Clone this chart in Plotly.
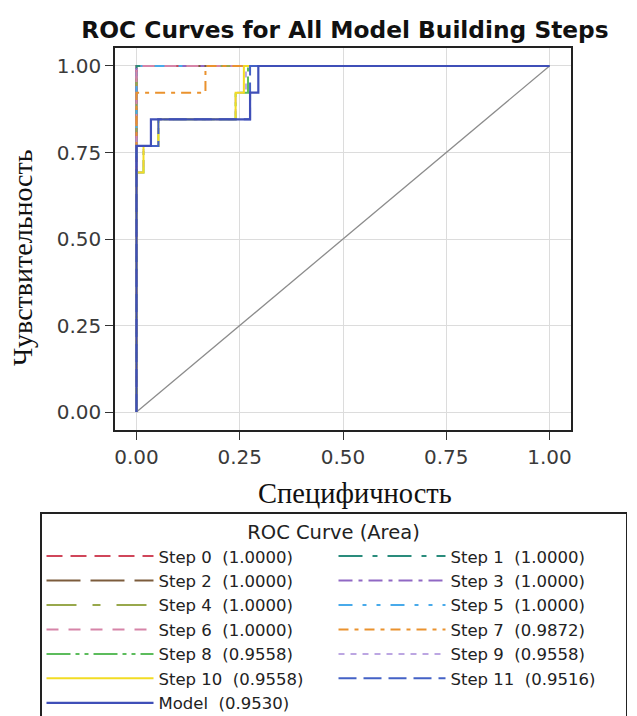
import plotly.graph_objects as go

# ---- data (1 - specificity on x, sensitivity on y) ----
step_names = ["Step 0", "Step 1", "Step 2", "Step 3", "Step 4", "Step 5", "Step 6",
              "Step 7", "Step 8", "Step 9", "Step 10", "Step 11", "Model"]
step_auc = ["1.0000", "1.0000", "1.0000", "1.0000", "1.0000", "1.0000", "1.0000",
            "0.9872", "0.9558", "0.9558", "0.9558", "0.9516", "0.9530"]

perfect_x = [0, 0, 1]
perfect_y = [0, 1, 1]
step7_x = [0, 0, 0.167, 0.167, 1]
step7_y = [0, 0.923, 0.923, 1, 1]
step8_x = [0, 0, 0.017, 0.017, 0.053, 0.053, 0.24, 0.24, 0.27, 0.27, 1]
step8_y = [0, 0.692, 0.692, 0.769, 0.769, 0.846, 0.846, 0.923, 0.923, 1, 1]
step9_x = [0, 0, 0.017, 0.017, 0.053, 0.053, 0.24, 0.24, 0.265, 0.265, 1]
step9_y = [0, 0.692, 0.692, 0.769, 0.769, 0.846, 0.846, 0.923, 0.923, 1, 1]
step10_x = [0, 0, 0.017, 0.017, 0.053, 0.053, 0.24, 0.24, 0.26, 0.26, 1]
step10_y = [0, 0.692, 0.692, 0.769, 0.769, 0.846, 0.846, 0.923, 0.923, 1, 1]
step11_x = [0, 0, 0.053, 0.053, 0.275, 0.275, 1]
step11_y = [0, 0.769, 0.769, 0.846, 0.846, 1, 1]
model_x = [0, 0, 0.035, 0.035, 0.275, 0.275, 0.295, 0.295, 1]
model_y = [0, 0.769, 0.769, 0.846, 0.846, 0.923, 0.923, 1, 1]

curves_x = [perfect_x] * 7 + [step7_x, step8_x, step9_x, step10_x, step11_x, model_x]
curves_y = [perfect_y] * 7 + [step7_y, step8_y, step9_y, step10_y, step11_y, model_y]

ticks = [0, 0.25, 0.5, 0.75, 1.0]
tick_text = ["0.00", "0.25", "0.50", "0.75", "1.00"]

# ---- styles ----
colors = ["#d0465a", "#2a8c7c", "#7c5c3c", "#9068c4", "#98a84c", "#48aaea", "#d684a8",
          "#ea922e", "#5cbc5c", "#bca6e2", "#f2dc24", "#4462c6", "#3f4fb8"]
dashes = ["16px,8px", "24px,10px,5px,10px", "34px,10px", "14px,6px,4px,6px",
          "30px,16px,8px,16px", "14px,10px,4px,10px,4px,10px", "12px,10px",
          "10px,6px,4px,6px", "24px,5px,4px,5px,4px,5px", "6px,6px", "solid",
          "18px,7px", "solid"]
FONT_SANS = "DejaVu Sans, Verdana, sans-serif"
FONT_SERIF = "Liberation Serif, Times New Roman, serif"

GS_W = 522.0    # width of the margin box (plot frame is 456 px of it)
FRAME_W = 456.0

fig = go.Figure()
fig.add_trace(go.Scatter(x=[0, 1], y=[0, 1], mode="lines",
                         line=dict(color="#8c8c8c", width=1.3), showlegend=False,
                         hoverinfo="skip"))
for i in range(len(step_names)):
    fig.add_trace(go.Scatter(
        x=curves_x[i], y=curves_y[i], mode="lines",
        name=step_names[i] + "\u00a0\u00a0(" + step_auc[i] + ")",
        line=dict(color=colors[i], width=2.2 if i == 12 else 2, dash=dashes[i]),
    ))

axis_common = dict(
    range=[-0.052, 1.052], tickvals=ticks, ticktext=tick_text,
    showgrid=True, gridcolor="#dcdcdc", gridwidth=1,
    showline=True, linecolor="#222", linewidth=1.5, mirror=True,
    ticks="outside", ticklen=8, tickcolor="#333", tickwidth=1.3,
    tickfont=dict(family=FONT_SANS, size=20, color="#3a3a3a"),
    zeroline=False,
)

fig.update_layout(
    width=629, height=708,
    paper_bgcolor="white", plot_bgcolor="white",
    margin=dict(l=107, r=0, t=40, b=286, autoexpand=False),
    title=dict(text="<b>ROC Curves for All Model Building Steps</b>",
               xref="paper", x=(345 - 115) / GS_W, xanchor="center",
               yref="container", y=0.969, yanchor="middle",
               font=dict(family=FONT_SANS, size=23.3, color="#111")),
    xaxis=dict(axis_common, domain=[0, FRAME_W / GS_W]),
    yaxis=axis_common,
    annotations=[
        dict(text="Специфичность", xref="paper", yref="paper",
             x=(355 - 115) / GS_W, y=-0.1675,
             xanchor="center", yanchor="middle", showarrow=False,
             font=dict(family=FONT_SERIF, size=28.5, color="#111")),
        dict(text="Чувствительность", xref="paper", yref="paper",
             x=(22 - 115) / GS_W, y=0.45,
             xanchor="center", yanchor="middle", showarrow=False, textangle=-90,
             font=dict(family=FONT_SERIF, size=28, color="#111")),
    ],
    legend=dict(
        orientation="h", x=(40 - 115) / GS_W, xanchor="left", y=-0.2147, yanchor="top",
        bordercolor="#222", borderwidth=1.5, bgcolor="white",
        font=dict(family=FONT_SANS, size=16.5, color="#222"),
        title=dict(text="ROC Curve (Area)", side="top center",
                   font=dict(family=FONT_SANS, size=19.5, color="#222")),
        entrywidth=170, itemwidth=107, tracegroupgap=0,
    ),
    showlegend=True,
)

fig.write_html("out.html")
